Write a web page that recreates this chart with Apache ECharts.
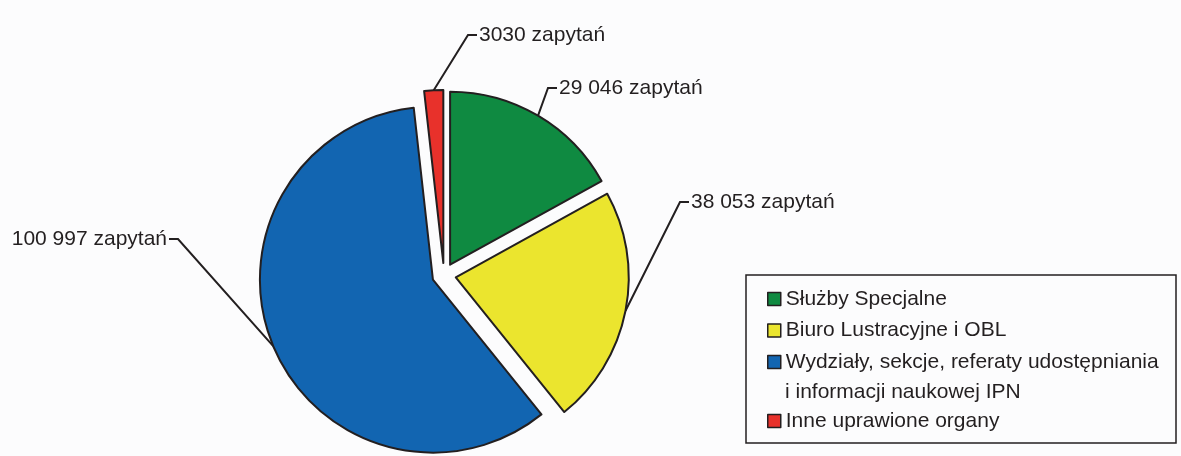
<!DOCTYPE html>
<html>
<head>
<meta charset="utf-8">
<title>Zapytania</title>
<script src="https://cdn.jsdelivr.net/npm/echarts@6/dist/echarts.min.js"></script>
<style>
    html, body { margin: 0; padding: 0; background: #fcfcfd; }
    #main { width: 1181px; height: 456px; }
</style>
</head>
<body>
<div id="main"></div>
<script type="text/javascript">
    var categories = ['Służby Specjalne', 'Biuro Lustracyjne i OBL', 'Wydziały, sekcje, referaty udostępniania', 'Inne uprawione organy'];
    var values = [29046, 38053, 100997, 3030];
    var colors = ['#0f8a41', '#ebe52e', '#1265b1', '#e8312b'];
    var legendSecondLine = 'i informacji naukowej IPN';
    var unit = 'zapytań';

    // label placement (px): x, y, align
    var labelPos = [[559, 88, 'left'], [691, 202, 'left'], [167, 239, 'right'], [479, 35, 'left']];

    var font = 'Liberation Sans';
    var ink = '#231f20';
    var pieCenter = [444, 275];
    var explode = 12;

    function fmt(n) {
        var s = String(n);
        return n >= 10000 ? s.replace(/\B(?=(\d{3})+(?!\d))/g, ' ') : s;
    }

    var myChart = echarts.init(document.getElementById('main'));

    // one pie series per slice, each shifted outward along its own bisector
    var total = values.reduce(function (a, b) { return a + b; }, 0);
    var acc = 0;
    var series = values.map(function (v, i) {
        var mid = (acc + v / 2) / total * Math.PI * 2;
        acc += v;
        return {
            type: 'pie',
            center: [pieCenter[0] + explode * Math.sin(mid), pieCenter[1] - explode * Math.cos(mid)],
            radius: 173,
            startAngle: 90,
            clockwise: true,
            silent: true,
            emphasis: { disabled: true },
            label: {
                fontFamily: font,
                fontSize: 21,
                color: ink,
                formatter: function (p) { return fmt(p.value) + ' ' + unit; }
            },
            labelLine: { lineStyle: { color: ink, width: 2 } },
            labelLayout: function (p) {
                var pts = p.labelLinePoints;
                if (p.dataIndex !== p.seriesIndex || !pts) {
                    return {};
                }
                var pos = labelPos[p.dataIndex];
                var s = pos[2] === 'left' ? -1 : 1;
                return {
                    x: pos[0],
                    y: pos[1],
                    align: pos[2],
                    verticalAlign: 'middle',
                    labelLinePoints: [pts[0], [pos[0] + s * 11, pos[1]], [pos[0] + s * 2, pos[1]]]
                };
            },
            data: categories.map(function (c, j) {
                var own = j === i;
                return {
                    name: c,
                    value: values[j],
                    itemStyle: own
                        ? { color: colors[j], borderColor: ink, borderWidth: 2 }
                        : { color: 'rgba(0,0,0,0)', borderWidth: 0 },
                    label: { show: own },
                    labelLine: { show: own }
                };
            })
        };
    });

    var legendItems = categories.map(function (c, i) {
        return { name: c, itemStyle: { color: colors[i], borderColor: ink, borderWidth: 1.5 } };
    });

    var legendBase = {
        orient: 'vertical',
        left: 767,
        padding: 0,
        itemWidth: 13,
        itemHeight: 13,
        itemGap: 7.5,
        icon: 'rect',
        selectedMode: false,
        textStyle: { fontFamily: font, fontSize: 21, color: ink, lineHeight: 24 }
    };

    var option = {
        backgroundColor: '#fcfcfd',
        animation: false,
        legend: [
            echarts.util.extend({ top: 287, data: legendItems.slice(0, 3) }, legendBase),
            echarts.util.extend({ top: 409, data: legendItems.slice(3) }, legendBase)
        ],
        graphic: [
            {
                type: 'rect',
                shape: { x: 746, y: 275, width: 430, height: 168 },
                style: { fill: 'none', stroke: ink, lineWidth: 1.5 }
            },
            {
                type: 'text',
                x: 785,
                y: 392,
                style: {
                    text: legendSecondLine,
                    font: '21px "Liberation Sans"',
                    fill: ink,
                    verticalAlign: 'middle'
                }
            }
        ],
        series: series
    };

    myChart.setOption(option);
</script>
</body>
</html>
